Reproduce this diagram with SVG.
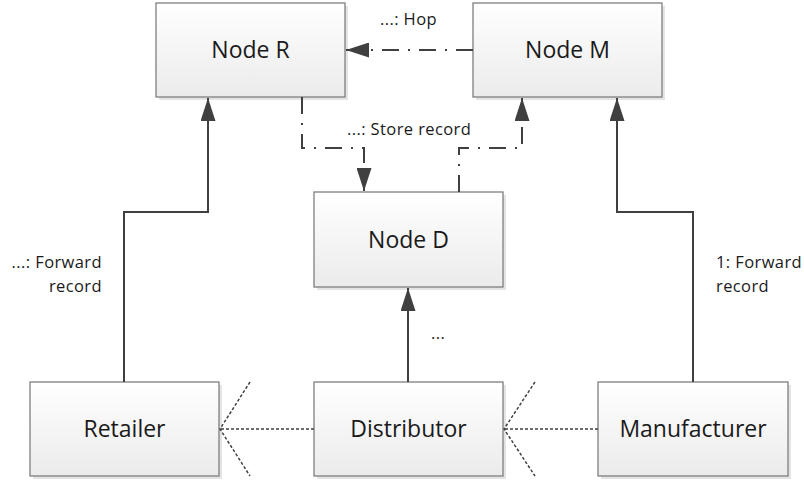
<svg xmlns="http://www.w3.org/2000/svg" width="804" height="483" viewBox="0 0 804 483">
  <style>
    .box { fill: url(#boxFill); stroke: #7f7f7f; stroke-width: 1.3; }
    .shadow { fill: #d9d9d9; opacity: 0.7; }
    .name { font-family: "Open Sans", "Liberation Sans", sans-serif; font-size: 23px; fill: #1a1a1a; text-anchor: middle; }
    .lbl { font-family: "Open Sans", "Liberation Sans", sans-serif; font-size: 16.5px; letter-spacing: 0.4px; fill: #1a1a1a; }
    .solid { fill: none; stroke: #404040; stroke-width: 2; }
    .dashdot { fill: none; stroke: #404040; stroke-width: 2; stroke-dasharray: 17 9 2 9; }
    .dotted { fill: none; stroke: #404040; stroke-width: 1.5; stroke-dasharray: 3 2; }
  </style>
  <defs>
    <linearGradient id="boxFill" x1="0" y1="0" x2="0" y2="1">
      <stop offset="0" stop-color="#ffffff"/>
      <stop offset="1" stop-color="#ebebeb"/>
    </linearGradient>
    <marker id="tri" viewBox="0 0 23 15" refX="23" refY="7.5" markerWidth="23" markerHeight="15" markerUnits="userSpaceOnUse" orient="auto">
      <path d="M0,0 L23,7.5 L0,15 Z" fill="#404040"/>
    </marker>
  </defs>

  <rect width="804" height="483" fill="#ffffff"/>

  <!-- nodes -->
  <g id="node-r">
    <rect class="shadow" x="159" y="6" width="189" height="94"/>
    <rect class="box" x="156" y="3" width="189" height="94"/>
    <text class="name" x="250.5" y="58">Node R</text>
  </g>
  <g id="node-m">
    <rect class="shadow" x="476" y="6" width="189" height="94"/>
    <rect class="box" x="473" y="3" width="189" height="94"/>
    <text class="name" x="567.5" y="58">Node M</text>
  </g>
  <g id="node-d">
    <rect class="shadow" x="317" y="195" width="189" height="95"/>
    <rect class="box" x="314" y="192" width="189" height="95"/>
    <text class="name" x="408.5" y="248">Node D</text>
  </g>
  <g id="retailer">
    <rect class="shadow" x="33" y="385" width="189" height="94"/>
    <rect class="box" x="30" y="382" width="189" height="94"/>
    <text class="name" x="124.5" y="437">Retailer</text>
  </g>
  <g id="distributor">
    <rect class="shadow" x="317" y="385" width="189" height="94"/>
    <rect class="box" x="314" y="382" width="189" height="94"/>
    <text class="name" x="408.5" y="437">Distributor</text>
  </g>
  <g id="manufacturer">
    <rect class="shadow" x="601" y="385" width="190" height="94"/>
    <rect class="box" x="598" y="382" width="190" height="94"/>
    <text class="name" x="693" y="437">Manufacturer</text>
  </g>

  <!-- connectors -->
  <g id="connectors">
    <!-- forward record: retailer to R -->
    <path class="solid" d="M124,382 V212 H208 V98" marker-end="url(#tri)"/>
    <!-- forward record: manufacturer to M -->
    <path class="solid" d="M693,382 V212 H617 V98" marker-end="url(#tri)"/>
    <!-- distributor to D -->
    <path class="solid" d="M408,382 V288" marker-end="url(#tri)"/>
    <!-- hop: M to R -->
    <path class="dashdot" d="M473,50 H346" marker-end="url(#tri)"/>
    <!-- store record: R to D -->
    <path class="dashdot" d="M302,97 V148 H364 V191" marker-end="url(#tri)"/>
    <!-- D to M -->
    <path class="dashdot" d="M459,192 V148 H522 V98" marker-end="url(#tri)"/>
    <!-- supply chain flow -->
    <path class="dotted" d="M314,429 H220 M250,382 L220,429 L250,476"/>
    <path class="dotted" d="M598,429 H504 M535,382 L504,429 L535,476"/>
  </g>

  <!-- connector labels -->
  <g id="labels">
    <text class="lbl" x="380" y="25">...: Hop</text>
    <text class="lbl" x="347" y="135">...: Store record</text>
    <text class="lbl" x="102" y="268" text-anchor="end">...: Forward</text>
    <text class="lbl" x="102" y="292" text-anchor="end">record</text>
    <text class="lbl" x="716" y="268">1: Forward</text>
    <text class="lbl" x="716" y="292">record</text>
    <text class="lbl" x="431" y="339">...</text>
  </g>
</svg>
